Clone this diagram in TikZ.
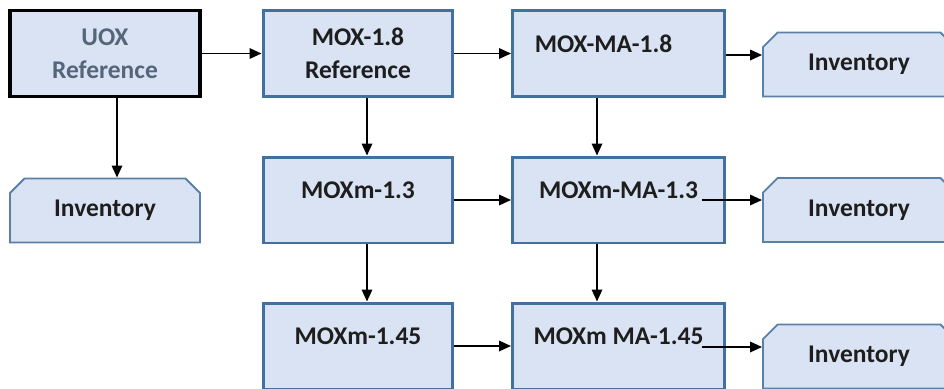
\documentclass[tikz,border=0pt]{standalone}
\usepackage{fontspec}
\setmainfont{Carlito}
\usepackage{xcolor}
\usepackage{tikz}
\usetikzlibrary{positioning, arrows.meta, shapes.misc}

\definecolor{boxfill}{HTML}{DAE3F3}
\definecolor{boxline}{HTML}{41719C}
\definecolor{invline}{HTML}{5B80A8}
\definecolor{uoxtext}{HTML}{56667A}
\definecolor{darktext}{HTML}{1E1E1E}

\begin{document}
\begin{tikzpicture}[x=0.02cm, y=-0.02cm,
    every node/.style={font=\bfseries\fontsize{14.5}{19}\selectfont, text=darktext, align=center, inner sep=0pt},
    procbox/.style={draw=boxline, line width=1.7pt, fill=boxfill, minimum width=3.8cm, minimum height=1.72cm},
    mabox/.style={procbox, minimum width=4.24cm},
    uptext/.style={text depth=0.4cm},
    invbox/.style={chamfered rectangle, chamfered rectangle corners={north west, north east},
        chamfered rectangle xsep=0.18cm, draw=invline, line width=1.1pt, fill=boxfill,
        minimum width=3.8cm, minimum height=1.28cm},
    arr/.style={line width=1pt, -{Triangle[length=0.24cm, width=0.21cm]}}]
    \clip (0,0) rectangle (944,389);

    % left column
    \node[procbox, draw=black, line width=2.2pt, text=uoxtext] (uox) at (105,53.5) {UOX\\Reference};
    \node[invbox] (invL) at (105,210.5) {Inventory};

    % middle column
    \node[procbox] (mox18) at (358,53.5) {MOX-1.8\\Reference};
    \node[procbox, uptext] (moxm13) at (358,200) {MOXm-1.3};
    \node[procbox, uptext] (moxm145) at (358,346) {MOXm-1.45};

    % MA column
    \node[mabox, uptext] (moxma18) at (618.5,53.5) {MOX-MA-1.8\hspace*{0.6cm}};
    \node[mabox, uptext] (moxmma13) at (618.5,200) {MOXm-MA-1.3};
    \node[mabox, uptext] (moxmma145) at (618.5,346) {MOXm MA-1.45};

    % inventories on the right
    \foreach \n/\y in {inv1/64.5, inv2/210, inv3/356.5} {
        \node[invbox, minimum width=3.84cm] (\n) at (859,\y) {Inventory};
    }

    \coordinate (o13) at (702,200);
    \coordinate (o145) at (702,347);

    \draw[arr] (uox) -- (mox18);
    \draw[arr] ([xshift=0.24cm]uox.south) -- ([xshift=0.24cm]invL.north);
    \draw[arr] (mox18) -- (moxma18);
    \draw[arr] ([xshift=0.18cm]mox18.south) -- ([xshift=0.18cm]moxm13.north);
    \draw[arr] ([xshift=0.18cm]moxm13.south) -- ([xshift=0.18cm]moxm145.north);
    \draw[arr] ([xshift=-0.43cm]moxma18.south) -- ([xshift=-0.43cm]moxmma13.north);
    \draw[arr] ([xshift=-0.43cm]moxmma13.south) -- ([xshift=-0.43cm]moxmma145.north);
    \draw[arr] (moxm13) -- (moxmma13);
    \draw[arr] (moxm145) -- (moxmma145);
    \draw[arr] ([yshift=-0.03cm]moxma18.east) -- ([yshift=-0.03cm]moxma18.east -| inv1.west);
    \draw[arr] (o13) -- (o13 -| inv2.west);
    \draw[arr] (o145) -- (o145 -| inv3.west);
\end{tikzpicture}
\end{document}
